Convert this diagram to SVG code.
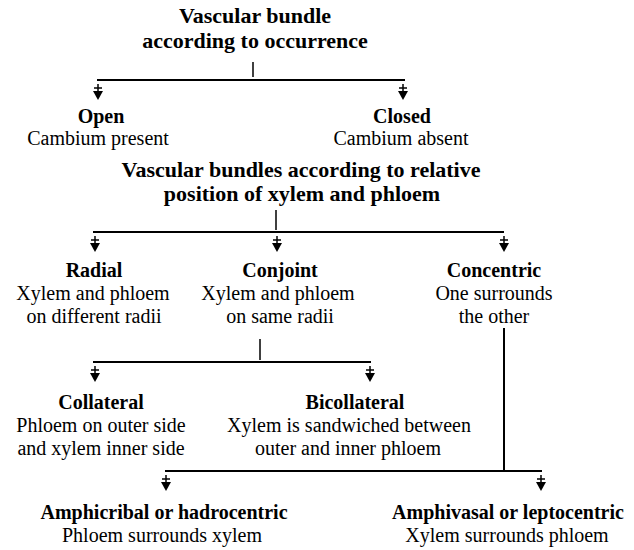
<svg xmlns="http://www.w3.org/2000/svg" width="634" height="550" viewBox="0 0 634 550">
  <style>
    text { fill: #000; text-anchor: middle; }
    .head { font-size: 22px; font-weight: bold; }
    .name { font-size: 20px; font-weight: bold; }
    .desc { font-size: 20px; }
    .wire { stroke: #000; stroke-width: 2; fill: none; }
    .tick { stroke: #000; stroke-width: 1.5; fill: none; }
  </style>
  <defs>
    <!-- short down arrow hanging under a branch line -->
    <g id="drop">
      <line x1="0" y1="0" x2="0" y2="12" stroke="#000" stroke-width="1.5"/>
      <line x1="-4" y1="4" x2="4" y2="4" stroke="#000" stroke-width="1.5"/>
      <polygon points="-5,7 5,7 0,16" fill="#000"/>
    </g>
  </defs>

  <rect width="634" height="550" fill="#fff"/>

  <!-- connectors -->
  <g id="connectors">
    <!-- occurrence -->
    <line class="tick" x1="253" y1="62" x2="253" y2="77"/>
    <line class="wire" x1="97" y1="80" x2="405" y2="80"/>
    <use href="#drop" x="98" y="84"/>
    <use href="#drop" x="403" y="84"/>

    <!-- relative position -->
    <line class="tick" x1="276" y1="210" x2="276" y2="230"/>
    <line class="wire" x1="93" y1="232" x2="504" y2="232"/>
    <use href="#drop" x="95" y="236"/>
    <use href="#drop" x="277" y="236"/>
    <use href="#drop" x="504" y="236"/>

    <!-- conjoint split -->
    <line class="tick" x1="260" y1="339" x2="260" y2="360"/>
    <line class="wire" x1="93" y1="362" x2="371" y2="362"/>
    <use href="#drop" x="95" y="366"/>
    <use href="#drop" x="370" y="366"/>

    <!-- concentric split -->
    <line class="wire" x1="504" y1="328" x2="504" y2="471"/>
    <line class="wire" x1="165" y1="471" x2="542" y2="471"/>
    <use href="#drop" x="166" y="475"/>
    <use href="#drop" x="541" y="475"/>
  </g>

  <g font-family="'Liberation Serif', 'DejaVu Serif', serif">
  <g id="occurrence">
    <text class="head" x="255" y="23">Vascular bundle</text>
    <text class="head" x="255" y="48">according to occurrence</text>
  </g>

  <g id="open">
    <text class="name" x="101" y="123">Open</text>
    <text class="desc" x="98" y="145">Cambium present</text>
  </g>

  <g id="closed">
    <text class="name" x="402" y="123">Closed</text>
    <text class="desc" x="401" y="145">Cambium absent</text>
  </g>

  <g id="relative-position">
    <text class="head" x="301" y="177">Vascular bundles according to relative</text>
    <text class="head" x="302" y="201">position of xylem and phloem</text>
  </g>

  <g id="radial">
    <text class="name" x="94" y="277">Radial</text>
    <text class="desc" x="93" y="300">Xylem and phloem</text>
    <text class="desc" x="94" y="323">on different radii</text>
  </g>

  <g id="conjoint">
    <text class="name" x="280" y="277">Conjoint</text>
    <text class="desc" x="278" y="300">Xylem and phloem</text>
    <text class="desc" x="280" y="323">on same radii</text>
  </g>

  <g id="concentric">
    <text class="name" x="494" y="277">Concentric</text>
    <text class="desc" x="494" y="300">One surrounds</text>
    <text class="desc" x="494" y="323">the other</text>
  </g>

  <g id="collateral">
    <text class="name" x="101" y="409">Collateral</text>
    <text class="desc" x="101" y="432">Phloem on outer side</text>
    <text class="desc" x="101" y="455">and xylem inner side</text>
  </g>

  <g id="bicollateral">
    <text class="name" x="355" y="409">Bicollateral</text>
    <text class="desc" x="349" y="432">Xylem is sandwiched between</text>
    <text class="desc" x="348" y="455">outer and inner phloem</text>
  </g>

  <g id="amphicribal">
    <text class="name" x="164" y="519">Amphicribal or hadrocentric</text>
    <text class="desc" x="162" y="542">Phloem surrounds xylem</text>
  </g>

  <g id="amphivasal">
    <text class="name" x="508" y="519">Amphivasal or leptocentric</text>
    <text class="desc" x="507" y="542">Xylem surrounds phloem</text>
  </g>
  </g>
</svg>
